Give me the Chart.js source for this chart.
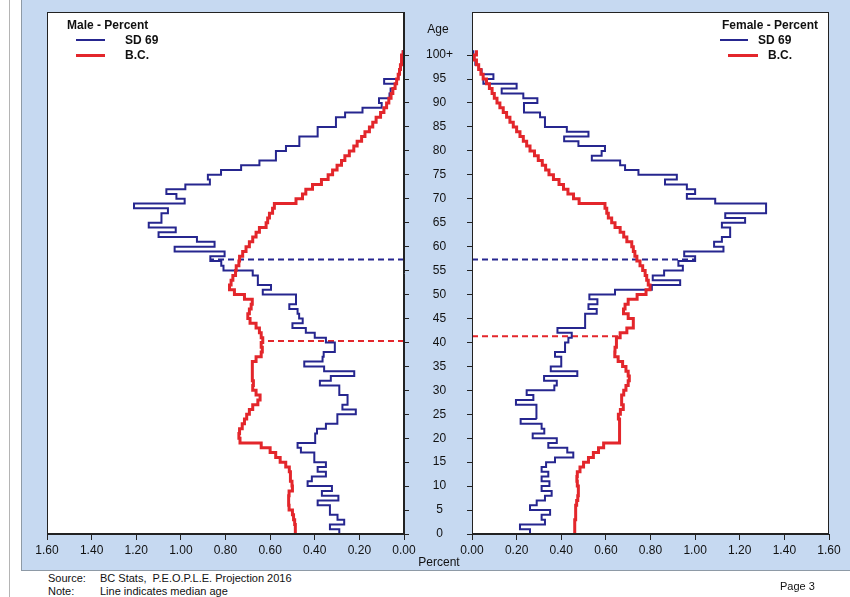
<!DOCTYPE html>
<html>
<head>
<meta charset="utf-8">
<script src="https://cdn.jsdelivr.net/npm/chart.js@4/dist/chart.umd.min.js"></script>
<style>
  body { margin: 0; background: #fff; font-family: 'Liberation Sans', Arial, sans-serif; color: #111; }
  #page { position: relative; width: 850px; height: 597px; overflow: hidden; }
  .abs { position: absolute; white-space: nowrap; }
  #pageLine { left: 9px; top: 0; width: 1px; height: 597px; background: #b4b4b4; }
  #panelBg { left: 21px; top: 0; width: 829px; height: 570px; background: #c6d9f1; border-left: 1px solid #8e9aa6; border-bottom: 1px solid #8e9aa6; }
  canvas { position: absolute; top: 0; }
  .lbl { font-size: 12px; line-height: 14px; }
  .bold { font-weight: bold; }
  .foot { font-size: 11px; line-height: 13px; }
  .swatch { height: 0; }
</style>
</head>
<body>
<div id="page">
  <div id="pageLine" class="abs"></div>
  <div id="panelBg" class="abs"></div>
  <canvas id="maleChart" width="472" height="570" style="left:0"></canvas>
  <canvas id="femaleChart" width="410" height="570" style="left:440px"></canvas>

  <div class="abs lbl" style="left:408px; width:60px; text-align:center; top:22px;">Age</div>
  <div class="abs lbl" style="left:408px; width:62px; text-align:center; top:555px;">Percent</div>

  <div class="abs lbl bold" style="left:67px; top:18px;">Male - Percent</div>
  <div class="abs swatch" style="left:76px; top:39px; width:29px; border-top:2px solid #26268f;"></div>
  <div class="abs lbl bold" style="left:125px; top:33px;">SD 69</div>
  <div class="abs swatch" style="left:76px; top:54px; width:29px; border-top:3px solid #e3262b;"></div>
  <div class="abs lbl bold" style="left:125px; top:48px;">B.C.</div>

  <div class="abs lbl bold" style="right:32px; top:18px;">Female - Percent</div>
  <div class="abs swatch" style="left:720px; top:39px; width:28px; border-top:2px solid #26268f;"></div>
  <div class="abs lbl bold" style="left:758px; top:33px;">SD 69</div>
  <div class="abs swatch" style="left:728px; top:54px; width:30px; border-top:3px solid #e3262b;"></div>
  <div class="abs lbl bold" style="left:768px; top:48px;">B.C.</div>

  <div class="abs foot" style="left:48px; top:572px;">Source:</div>
  <div class="abs foot" style="left:100px; top:572px;">BC Stats,&nbsp; P.E.O.P.L.E. Projection 2016</div>
  <div class="abs foot" style="left:48px; top:585px;">Note:</div>
  <div class="abs foot" style="left:100px; top:585px;">Line indicates median age</div>
  <div class="abs foot" style="left:780px; top:580px;">Page 3</div>
</div>

<script>
// Percent of population by single year of age, 0 .. 100+
const maleSD69 = [
  0.29, 0.332, 0.268, 0.298, 0.332, 0.332, 0.387, 0.294, 0.368, 0.323,
  0.432, 0.413, 0.35, 0.387, 0.35, 0.402, 0.402, 0.462, 0.477, 0.398,
  0.398, 0.39, 0.35, 0.30, 0.298, 0.216, 0.276, 0.253, 0.253, 0.29,
  0.29, 0.377, 0.328, 0.223, 0.358, 0.447, 0.365, 0.36, 0.31, 0.31,
  0.35, 0.40, 0.44, 0.50, 0.454, 0.47, 0.477, 0.514, 0.484, 0.484,
  0.633, 0.596, 0.655, 0.655, 0.678, 0.809, 0.819, 0.868, 0.804, 1.028,
  0.849, 0.928, 1.10, 1.023, 1.144, 1.087, 1.087, 1.058, 1.21, 0.983,
  1.02, 1.065, 0.98, 0.87, 0.879, 0.82, 0.73, 0.648, 0.574, 0.574,
  0.529, 0.469, 0.469, 0.387, 0.387, 0.305, 0.305, 0.264, 0.186, 0.10,
  0.112, 0.065, 0.06, 0.04, 0.089, 0.025, 0.02, 0.015, 0.012, 0.01,
  0.005
];
const maleBC = [
  0.487, 0.487, 0.49, 0.495, 0.50, 0.515, 0.517, 0.517, 0.515, 0.50,
  0.502, 0.507, 0.51, 0.514, 0.53, 0.555, 0.575, 0.60, 0.64, 0.735,
  0.74, 0.737, 0.725, 0.715, 0.705, 0.693, 0.678, 0.655, 0.645, 0.663,
  0.678, 0.675, 0.678, 0.681, 0.681, 0.678, 0.663, 0.64, 0.635, 0.64,
  0.633, 0.64, 0.648, 0.663, 0.69, 0.70, 0.693, 0.685, 0.68, 0.715,
  0.76, 0.782, 0.775, 0.767, 0.755, 0.752, 0.74, 0.737, 0.723, 0.708,
  0.693, 0.678, 0.663, 0.648, 0.618, 0.611, 0.603, 0.589, 0.581, 0.484,
  0.455, 0.44, 0.41, 0.37, 0.34, 0.32, 0.30, 0.28, 0.265, 0.245,
  0.225, 0.21, 0.19, 0.175, 0.155, 0.14, 0.125, 0.105, 0.09, 0.078,
  0.068, 0.058, 0.05, 0.04, 0.033, 0.026, 0.02, 0.016, 0.013, 0.01,
  0.004
];
const femaleSD69 = [
  0.26, 0.215, 0.327, 0.312, 0.35, 0.26, 0.29, 0.327, 0.357, 0.312,
  0.347, 0.312, 0.342, 0.312, 0.332, 0.372, 0.454, 0.427, 0.342, 0.38,
  0.272, 0.324, 0.312, 0.218, 0.29, 0.29, 0.287, 0.197, 0.275, 0.245,
  0.369, 0.38, 0.323, 0.472, 0.353, 0.40, 0.40, 0.372, 0.417, 0.417,
  0.432, 0.447, 0.383, 0.507, 0.507, 0.507, 0.559, 0.522, 0.562, 0.526,
  0.641, 0.806, 0.933, 0.81, 0.861, 0.945, 0.925, 1.0, 0.951, 1.127,
  1.085, 1.12, 1.157, 1.157, 1.12, 1.224, 1.135, 1.318, 1.318, 1.09,
  0.963, 1.0, 0.963, 0.865, 0.918, 0.746, 0.686, 0.664, 0.537, 0.581,
  0.596, 0.477, 0.413, 0.522, 0.425, 0.327, 0.327, 0.305, 0.233, 0.233,
  0.293, 0.23, 0.133, 0.20, 0.051, 0.096, 0.043, 0.03, 0.015, 0.01,
  0.006
];
const femaleBC = [
  0.46, 0.46, 0.461, 0.463, 0.464, 0.466, 0.469, 0.474, 0.476, 0.477,
  0.472, 0.47, 0.472, 0.484, 0.50, 0.522, 0.544, 0.567, 0.59, 0.66,
  0.662, 0.662, 0.662, 0.66, 0.656, 0.665, 0.678, 0.672, 0.67, 0.68,
  0.69, 0.70, 0.705, 0.70, 0.69, 0.675, 0.655, 0.64, 0.641, 0.646,
  0.648, 0.664, 0.694, 0.723, 0.723, 0.70, 0.679, 0.686, 0.70, 0.74,
  0.78, 0.798, 0.79, 0.783, 0.776, 0.765, 0.753, 0.739, 0.73, 0.723,
  0.716, 0.694, 0.68, 0.664, 0.641, 0.626, 0.611, 0.604, 0.596, 0.48,
  0.455, 0.43, 0.41, 0.39, 0.365, 0.345, 0.33, 0.315, 0.297, 0.28,
  0.26, 0.245, 0.23, 0.215, 0.20, 0.185, 0.17, 0.155, 0.14, 0.125,
  0.112, 0.10, 0.09, 0.078, 0.065, 0.05, 0.04, 0.03, 0.02, 0.01,
  0.02
];

// Median ages: [male, female]
const medianSD69 = [57.3, 57.3];
const medianBC = [40.3, 41.3];

// Axis ticks
const ageTicks = [0, 5, 10, 15, 20, 25, 30, 35, 40, 45, 50, 55, 60, 65, 70, 75, 80, 85, 90, 95, 100];
const ageTickLabels = ['0', '5', '10', '15', '20', '25', '30', '35', '40', '45', '50',
  '55', '60', '65', '70', '75', '80', '85', '90', '95', '100+'];
const pctTicks = [0, 0.2, 0.4, 0.6, 0.8, 1.0, 1.2, 1.4, 1.6];

const BLUE = '#26268f';
const RED = '#e3262b';
const FONT = { family: "'Liberation Sans', Arial, sans-serif", size: 12 };

// each single-year age is drawn as a vertical step from age to age + 1
function steps(values) {
  const pts = [];
  values.forEach((v, age) => {
    pts.push({ x: v, y: age }, { x: v, y: age + 1 });
  });
  return pts;
}

// dashed median line from the axis to the population line
function medianLine(age, values) {
  return [{ x: 0, y: age }, { x: values[Math.floor(age)], y: age }];
}

function datasets(sd69, bc, sex) {
  return [
    { label: 'B.C.', data: steps(bc), showLine: true, borderColor: RED, borderWidth: 3,
      pointRadius: 0, order: 0 },
    { label: 'SD 69', data: steps(sd69), showLine: true, borderColor: BLUE, borderWidth: 2,
      pointRadius: 0, order: 1 },
    { label: 'Median SD 69', data: medianLine(medianSD69[sex], sd69), showLine: true,
      borderColor: BLUE, borderWidth: 2, borderDash: [6, 4], pointRadius: 0, order: 2 },
    { label: 'Median B.C.', data: medianLine(medianBC[sex], bc), showLine: true,
      borderColor: RED, borderWidth: 2, borderDash: [6, 4], pointRadius: 0, order: 2 }
  ];
}

// white plot area with a black frame
const plotFrame = {
  id: 'plotFrame',
  beforeDraw(chart) {
    const { ctx, chartArea: a } = chart;
    ctx.save();
    ctx.fillStyle = '#fff';
    ctx.fillRect(a.left, a.top, a.right - a.left, a.bottom - a.top);
    ctx.restore();
  },
  afterDraw(chart) {
    const { ctx, chartArea: a } = chart;
    ctx.save();
    ctx.strokeStyle = '#222';
    ctx.lineWidth = 1;
    ctx.strokeRect(a.left + 0.5, a.top + 0.5, a.right - a.left - 1, a.bottom - a.top - 1);
    ctx.restore();
  }
};

function xScale(reverse) {
  return {
    type: 'linear', reverse: reverse, min: 0, max: 1.6,
    afterBuildTicks: s => { s.ticks = pctTicks.map(v => ({ value: v })); },
    afterFit: s => { s.height = 36; s.paddingLeft = 0; s.paddingRight = 0; },
    ticks: { callback: v => v.toFixed(2), font: FONT, color: '#111', padding: 3,
      maxRotation: 0, autoSkip: false },
    grid: { drawOnChartArea: false, tickLength: 6, color: '#222' },
    border: { color: '#222' }
  };
}

function yScale(position, showLabels) {
  return {
    type: 'linear', position: position, min: 0, max: 109,
    afterBuildTicks: s => { s.ticks = ageTicks.map(v => ({ value: v })); },
    afterFit: s => {
      s.width = showLabels ? 68 : 32;
      s.paddingTop = 0;
      s.paddingBottom = 0;
    },
    ticks: {
      display: showLabels,
      callback: v => ageTickLabels[ageTicks.indexOf(v)],
      font: FONT, color: '#111', crossAlign: 'center', padding: 17, autoSkip: false
    },
    grid: { drawOnChartArea: false, tickLength: 5, color: '#222' },
    border: { color: '#222' }
  };
}

function baseOptions(padding, reverse, yPos, showLabels) {
  return {
    responsive: false,
    animation: false,
    devicePixelRatio: 1,
    layout: { padding: padding },
    plugins: { legend: { display: false }, tooltip: { enabled: false } },
    scales: { x: xScale(reverse), y: yScale(yPos, showLabels) }
  };
}

new Chart(document.getElementById('maleChart'), {
  type: 'scatter',
  data: { datasets: datasets(maleSD69, maleBC, 0) },
  options: baseOptions({ left: 47, top: 12, right: 0, bottom: 0 }, true, 'right', true),
  plugins: [plotFrame]
});

new Chart(document.getElementById('femaleChart'), {
  type: 'scatter',
  data: { datasets: datasets(femaleSD69, femaleBC, 1) },
  options: baseOptions({ left: 0, top: 12, right: 21, bottom: 0 }, false, 'left', false),
  plugins: [plotFrame]
});
</script>
</body>
</html>
